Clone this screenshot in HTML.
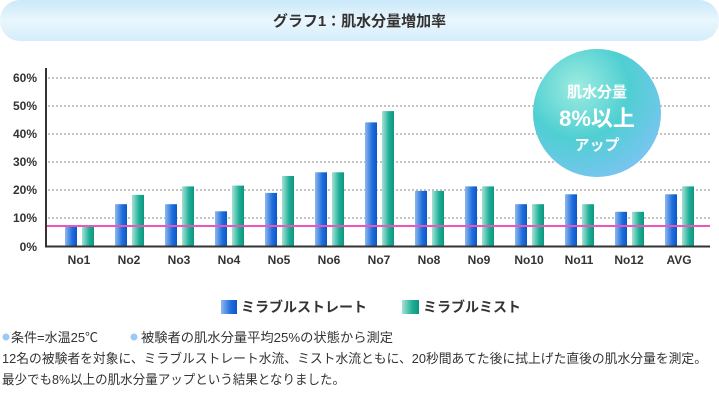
<!DOCTYPE html>
<html><head><meta charset="utf-8"><style>
body{margin:0;background:#fff;width:719px;height:400px;overflow:hidden;font-family:"Liberation Sans","Noto Sans CJK JP",sans-serif;}
</style></head><body>
<svg width="719" height="400" xmlns="http://www.w3.org/2000/svg" style="font-family:'Liberation Sans','Noto Sans CJK JP',sans-serif">
<defs>
<linearGradient id="hdr" x1="0" y1="0" x2="0" y2="1"><stop offset="0" stop-color="#c9e9f9"/><stop offset="0.5" stop-color="#eaf6fd"/><stop offset="1" stop-color="#d3eefb"/></linearGradient>
<linearGradient id="bl" x1="0" x2="1"><stop offset="0" stop-color="#8fb8ee"/><stop offset="0.6" stop-color="#1f6fdc"/><stop offset="1" stop-color="#0c56c8"/></linearGradient>
<linearGradient id="tl" x1="0" x2="1"><stop offset="0" stop-color="#a6e2d6"/><stop offset="0.6" stop-color="#1fae96"/><stop offset="1" stop-color="#0d9580"/></linearGradient>
<radialGradient id="ball" cx="0.35" cy="0.3" r="0.8"><stop offset="0" stop-color="#9fece0"/><stop offset="0.5" stop-color="#4fcfd2"/><stop offset="1" stop-color="#7ec3f4"/></radialGradient>
</defs>
<rect x="0" y="0" width="719" height="41" rx="20" fill="url(#hdr)"/>
<text x="359.5" y="26" text-anchor="middle" font-size="15" font-weight="bold" fill="#333">グラフ1：肌水分量増加率</text>
<g stroke="#888" stroke-dasharray="2,2" stroke-width="1">
<line x1="48" x2="710" y1="78" y2="78"/><line x1="48" x2="710" y1="106" y2="106"/><line x1="48" x2="710" y1="134" y2="134"/><line x1="48" x2="710" y1="162" y2="162"/><line x1="48" x2="710" y1="190" y2="190"/><line x1="48" x2="710" y1="218" y2="218"/>
</g>
<g font-size="12" font-weight="bold" fill="#333" text-anchor="end">
<text x="37" y="82">60%</text><text x="37" y="110">50%</text><text x="37" y="138">40%</text><text x="37" y="166">30%</text><text x="37" y="194">20%</text><text x="37" y="222">10%</text><text x="37" y="251">0%</text>
</g>
<g>
<rect x="65" y="225.4" width="12" height="21.1" fill="url(#bl)"/><rect x="82" y="225.4" width="12" height="21.1" fill="url(#tl)"/>
<rect x="115" y="204.2" width="12" height="42.3" fill="url(#bl)"/><rect x="132" y="194.9" width="12" height="51.6" fill="url(#tl)"/>
<rect x="165" y="204.2" width="12" height="42.3" fill="url(#bl)"/><rect x="182" y="186.4" width="12" height="60.1" fill="url(#tl)"/>
<rect x="215" y="211.3" width="12" height="35.2" fill="url(#bl)"/><rect x="232" y="185.6" width="12" height="60.9" fill="url(#tl)"/>
<rect x="265" y="192.9" width="12" height="53.6" fill="url(#bl)"/><rect x="282" y="176" width="12" height="70.5" fill="url(#tl)"/>
<rect x="315" y="172.3" width="12" height="74.2" fill="url(#bl)"/><rect x="332" y="172.3" width="12" height="74.2" fill="url(#tl)"/>
<rect x="365" y="122.4" width="12" height="124.1" fill="url(#bl)"/><rect x="382" y="111.1" width="12" height="135.4" fill="url(#tl)"/>
<rect x="415" y="190.9" width="12" height="55.6" fill="url(#bl)"/><rect x="432" y="190.9" width="12" height="55.6" fill="url(#tl)"/>
<rect x="465" y="186.4" width="12" height="60.1" fill="url(#bl)"/><rect x="482" y="186.4" width="12" height="60.1" fill="url(#tl)"/>
<rect x="515" y="204.2" width="12" height="42.3" fill="url(#bl)"/><rect x="532" y="204.2" width="12" height="42.3" fill="url(#tl)"/>
<rect x="565" y="194.3" width="12" height="52.2" fill="url(#bl)"/><rect x="582" y="204.2" width="12" height="42.3" fill="url(#tl)"/>
<rect x="615" y="211.8" width="12" height="34.7" fill="url(#bl)"/><rect x="632" y="211.8" width="12" height="34.7" fill="url(#tl)"/>
<rect x="665" y="194.3" width="12" height="52.2" fill="url(#bl)"/><rect x="682" y="186.4" width="12" height="60.1" fill="url(#tl)"/>
</g>
<g font-size="12" font-weight="bold" fill="#333" text-anchor="middle">
<text x="79" y="264">No1</text><text x="129" y="264">No2</text><text x="179" y="264">No3</text><text x="229" y="264">No4</text><text x="279" y="264">No5</text><text x="329" y="264">No6</text><text x="379" y="264">No7</text><text x="429" y="264">No8</text><text x="479" y="264">No9</text><text x="529" y="264">No10</text><text x="579" y="264">No11</text><text x="629" y="264">No12</text><text x="679" y="264">AVG</text>
</g>
<line x1="46" x2="710" y1="246.5" y2="246.5" stroke="#333" stroke-width="2"/>
<line x1="46" x2="46" y1="68" y2="247.5" stroke="#333" stroke-width="2"/>
<line x1="47" x2="710" y1="226" y2="226" stroke="#ee55bb" stroke-width="2"/>
<circle cx="597" cy="113" r="64" fill="url(#ball)"/>
<g fill="#fff" font-weight="bold" text-anchor="middle">
<text x="597" y="97" font-size="15">肌水分量</text>
<text x="597" y="126" font-size="22">8%以上</text>
<text x="597" y="150" font-size="15">アップ</text>
</g>
<rect x="221" y="300" width="16" height="14" fill="url(#bl)"/>
<text x="241" y="312" font-size="14" font-weight="bold" fill="#333">ミラブルストレート</text>
<rect x="402" y="300" width="17" height="14" fill="url(#tl)"/>
<text x="423" y="312" font-size="14" font-weight="bold" fill="#333">ミラブルミスト</text>
<g font-size="13" fill="#333">
<circle cx="6" cy="337" r="3.5" fill="#9cc8f2"/><text x="11" y="342">条件=水温25℃</text>
<circle cx="134" cy="337" r="3.5" fill="#9cc8f2"/><text x="141" y="342" textLength="252" lengthAdjust="spacingAndGlyphs">被験者の肌水分量平均25%の状態から測定</text>
<text x="2" y="363" textLength="705" lengthAdjust="spacingAndGlyphs">12名の被験者を対象に、ミラブルストレート水流、ミスト水流ともに、20秒間あてた後に拭上げた直後の肌水分量を測定。</text>
<text x="2" y="384" textLength="343" lengthAdjust="spacingAndGlyphs">最少でも8%以上の肌水分量アップという結果となりました。</text>
</g>
</svg>
</body></html>
